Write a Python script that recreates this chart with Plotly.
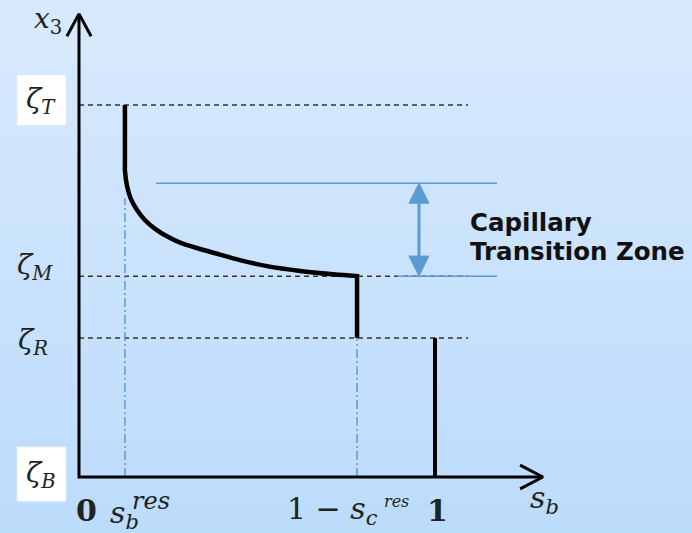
import plotly.graph_objects as go

# ---------------- data ----------------
level_names = ["T", "M", "R", "B"]
level_z = [1.0, 0.540, 0.374, 0.0]          # zeta_T, zeta_M, zeta_R, zeta_B
sb_res = 0.129                              # residual brine saturation
sc_res = 0.219                              # residual CO2 saturation
curve_s = [0.129, 0.129, 0.129, 0.135, 0.146, 0.163, 0.185, 0.214, 0.247,
           0.284, 0.340, 0.396, 0.452, 0.528, 0.621, 0.714, 0.781]
curve_z = [1.0, 0.840, 0.825, 0.782, 0.747, 0.718, 0.691, 0.667, 0.647,
           0.630, 0.613, 0.598, 0.583, 0.567, 0.554, 0.545, 0.540]
zone_top = 0.790                            # top of capillary transition zone
zone_label = ["Capillary", "Transition Zone"]

zT, zM, zR, zB = level_z
s_c = 1 - sc_res

# ---------------- layout constants ----------------
XR = [-0.2219, 1.7219]
YR = [-0.1505, 1.2823]
BLUE = "#5b9bd5"
DARK = "#222222"
MATH = "DejaVu Serif"

fig = go.Figure()

def line(x, y, color="black", width=3, dash="solid", shape="linear"):
    fig.add_trace(go.Scatter(x=x, y=y, mode="lines", hoverinfo="skip",
                             line=dict(color=color, width=width, dash=dash,
                                       shape=shape),
                             showlegend=False))

# dashed level lines
for z in (zT, zM, zR):
    line([0, 1.093], [z, z], color="#333333", width=1.5, dash="5px,4px")

# dash-dot guide lines
line([sb_res, sb_res], [zB, 0.75], color=BLUE, width=1.5, dash="9px,3px,2px,3px")
line([s_c, s_c], [zB, zR], color=BLUE, width=1.5, dash="9px,3px,2px,3px")

# transition zone bounds
line([0.216, 1.174], [zone_top, zone_top], color=BLUE, width=1.5)
line([0.893, 1.174], [zM, zM], color=BLUE, width=1.5)

# double arrow
ax = 0.955
hh = 0.054
hw = 0.028
line([ax, ax], [zone_top - hh, zM + hh], color=BLUE, width=3)
for tip, sgn in ((zone_top, -1), (zM, 1)):
    fig.add_trace(go.Scatter(x=[ax, ax - hw, ax + hw, ax],
                             y=[tip, tip + sgn * hh, tip + sgn * hh, tip],
                             mode="lines", fill="toself", fillcolor=BLUE,
                             line=dict(color=BLUE, width=1), hoverinfo="skip",
                             showlegend=False))

# saturation profile
line(curve_s, curve_z, width=4.5, shape="spline")
line([s_c, s_c], [zM + 0.006, zR], width=4.5)
line([1, 1], [zR, zB], width=4)

# axes with open arrowheads
line([0, 0, 1.303], [1.245, 0, 0], width=3)
line([-0.034, 0, 0.034], [1.185, 1.245, 1.185], width=3)
line([1.239, 1.303, 1.239], [0.032, 0, -0.032], width=3)

# ---------------- background gradient ----------------
shapes = []
n = 40
top = (216, 233, 252)
bot = (188, 220, 252)
for i in range(n):
    t = i / (n - 1)
    c = tuple(round(top[k] + (bot[k] - top[k]) * t) for k in range(3))
    shapes.append(dict(type="rect", xref="paper", yref="paper",
                       x0=0, x1=1, y0=1 - (i + 1) / n, y1=1 - i / n + 0.001,
                       fillcolor="rgb(%d,%d,%d)" % c, line=dict(width=0),
                       layer="below"))
# white label boxes
for y0, y1 in ((0.946, 1.081), (-0.065, 0.081)):
    shapes.append(dict(type="rect", xref="x", yref="y", x0=-0.174, x1=-0.0365,
                       y0=y0, y1=y1, fillcolor="white",
                       line=dict(color="#e6eef8", width=1), layer="below"))

# ---------------- annotations ----------------
ann = []
def txt(x, y, s, size=28, xa="center", ya="middle", family=MATH, color=DARK):
    ann.append(dict(x=x, y=y, xref="x", yref="y", text=s, showarrow=False,
                    xanchor=xa, yanchor=ya,
                    font=dict(family=family, size=size, color=color)))

pos = {"T": (-0.107, 1.013), "M": (-0.124, 0.565), "R": (-0.129, 0.363),
       "B": (-0.107, 0.008)}
for name in level_names:
    x, y = pos[name]
    txt(x, y, "<i>ζ</i><sub><i>%s</i></sub>" % name, size=28)

txt(-0.087, 1.228, "<i>x</i><sub>3</sub>", size=28)

txt(0.020, -0.038, "<b>0</b>", size=30, ya="top")
txt(1.008, -0.038, "<b>1</b>", size=30, ya="top")
txt(0.081, -0.043, "<i>s</i><sub><i>b</i></sub>", size=30, xa="left", ya="top")
txt(0.143, -0.065, "<i>res</i>", size=24, xa="left")
txt(0.580, -0.032, "1 − <i>s</i><sub><i>c</i></sub>", size=30, xa="left", ya="top")
txt(0.851, -0.067, "<i>res</i>", size=16, xa="left")
txt(1.261, -0.003, "<i>s</i><sub><i>b</i></sub>", size=30, xa="left", ya="top")

txt(1.093, 0.685, "<b>%s</b>" % zone_label[0], size=24.5, xa="left",
    family="DejaVu Sans", color="#111111")
txt(1.093, 0.605, "<b>%s</b>" % zone_label[1], size=24.5, xa="left",
    family="DejaVu Sans", color="#111111")

fig.update_layout(
    width=692, height=533, margin=dict(l=0, r=0, t=0, b=0),
    paper_bgcolor="rgb(200,226,251)", plot_bgcolor="rgba(0,0,0,0)",
    xaxis=dict(range=XR, visible=False, fixedrange=True),
    yaxis=dict(range=YR, visible=False, fixedrange=True),
    shapes=shapes, annotations=ann, showlegend=False,
)
fig.write_html("out.html")
